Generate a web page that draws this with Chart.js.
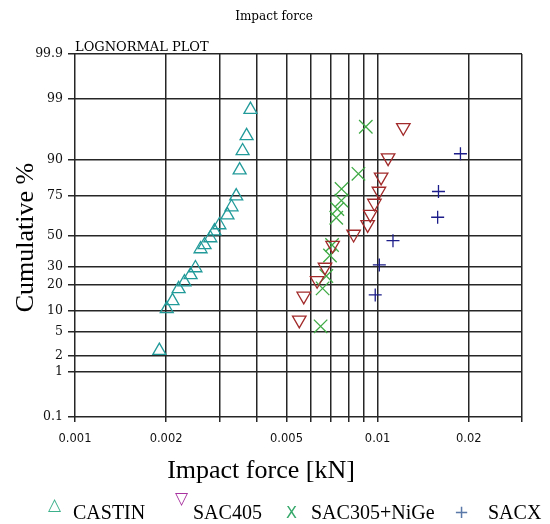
<!DOCTYPE html>
<html>
<head>
<meta charset="utf-8">
<script src="https://cdn.jsdelivr.net/npm/chart.js@4.4.1/dist/chart.umd.min.js"></script>
<style>
  body { margin: 0; background: #fff; }
  #plot { display: block; }
</style>
</head>
<body>
<canvas id="plot" width="550" height="524"></canvas>
<script>
// impact force [kN] and cumulative failure % for each solder alloy
const CASTIN_FORCE = [0.00190, 0.00201, 0.00210, 0.00220, 0.00230, 0.00241, 0.00250, 0.00260, 0.00268, 0.00280,
                      0.00289, 0.00300, 0.00319, 0.00329, 0.00341, 0.00350, 0.00358, 0.00369, 0.00380];
const CASTIN_CUM = [2.5, 10.6, 13.3, 18.2, 21.4, 25.1, 29.0, 40.9, 43.6, 48.3,
                    53.0, 57.1, 63.6, 68.6, 74.9, 86.7, 92.5, 95.5, 98.4];

const SAC405_FORCE = [0.00551, 0.00570, 0.00631, 0.00670, 0.00710, 0.00833, 0.00927, 0.00946, 0.00976, 0.01010,
                      0.01027, 0.01083, 0.01216];
const SAC405_CUM = [7.5, 15.1, 22.2, 29.5, 43.4, 50.9, 57.4, 64.1, 70.9, 77.5, 84.0, 90.7, 96.7];

const SAC305_FORCE = [0.00648, 0.00658, 0.00677, 0.00696, 0.00707, 0.00730, 0.00736, 0.00759, 0.00760, 0.00864, 0.00914];
const SAC305_CUM = [6.1, 18.4, 24.5, 36.7, 43.6, 61.9, 67.4, 72.4, 78.6, 85.3, 96.8];

const SACX_FORCE = [0.00982, 0.01013, 0.01124, 0.01579, 0.01589, 0.01878];
const SACX_CUM = [15.6, 30.8, 46.5, 62.2, 77.3, 91.8];

const SERIES_NAMES = ["CASTIN", "SAC405", "SAC305+NiGe", "SACX"];

// probability axis lines (%) and log axis lines (kN)
const PCT_TICKS = [0.1, 1, 2, 5, 10, 20, 30, 50, 75, 90, 99, 99.9];
const FORCE_GRID = [0.001, 0.002, 0.003, 0.004, 0.005, 0.006, 0.007, 0.008, 0.009, 0.01, 0.02, 0.03];
const FORCE_LABELS = [0.001, 0.002, 0.005, 0.01, 0.02];

const CHART_TITLE = "Impact force";
const PLOT_TAG = "LOGNORMAL PLOT";
const X_TITLE = "Impact force [kN]";
const Y_TITLE = "Cumulative %";

// inverse standard normal CDF (Acklam), used for the probability axis
function probit(p) {
  const a = [-3.969683028665376e+01, 2.209460984245205e+02, -2.759285104469687e+02,
             1.383577518672690e+02, -3.066479806614716e+01, 2.506628277459239e+00];
  const b = [-5.447609879822406e+01, 1.615858368580409e+02, -1.556989798598866e+02,
             6.680131188771972e+01, -1.328068155288572e+01];
  const c = [-7.784894002430293e-03, -3.223964580411365e-01, -2.400758277161838e+00,
             -2.549671750887042e+00, 4.374664141464968e+00, 2.938163982698783e+00];
  const d = [7.784695709041462e-03, 3.224671290700398e-01, 2.445134137142996e+00, 3.754408661907416e+00];
  const lo = 0.02425;
  if (p < lo) {
    const q = Math.sqrt(-2 * Math.log(p));
    return (((((c[0] * q + c[1]) * q + c[2]) * q + c[3]) * q + c[4]) * q + c[5]) /
           ((((d[0] * q + d[1]) * q + d[2]) * q + d[3]) * q + 1);
  }
  if (p > 1 - lo) return -probit(1 - p);
  const q = p - 0.5;
  const r = q * q;
  return (((((a[0] * r + a[1]) * r + a[2]) * r + a[3]) * r + a[4]) * r + a[5]) * q /
         (((((b[0] * r + b[1]) * r + b[2]) * r + b[3]) * r + b[4]) * r + 1);
}

function toPoints(force, cum) {
  return force.map((f, i) => ({ x: f, y: probit(cum[i] / 100) }));
}

const GRID_COLOR = "#262626";

// titles and the key below the plot
const decorations = {
  id: "decorations",
  afterDraw(chart) {
    const ctx = chart.ctx;
    const area = chart.chartArea;
    ctx.save();
    ctx.fillStyle = "#000";
    ctx.textBaseline = "alphabetic";

    ctx.font = '12px "DejaVu Serif"';
    ctx.textAlign = "center";
    ctx.fillText(CHART_TITLE, 274, 19.5);

    ctx.font = '13px "DejaVu Serif"';
    ctx.textAlign = "left";
    ctx.fillText(PLOT_TAG, area.left, area.top - 3);

    ctx.font = '26px "Liberation Serif"';
    ctx.textAlign = "center";
    ctx.fillText(X_TITLE, 261, 478);

    ctx.save();
    ctx.translate(33, (area.top + area.bottom) / 2 + 2);
    ctx.rotate(-Math.PI / 2);
    ctx.fillText(Y_TITLE, 0, 0);
    ctx.restore();

    const keys = [
      { mark: "\u25B3", color: "#3bb08a", font: '17px "DejaVu Sans"', mx: 48, my: 510, tx: 73 },
      { mark: "\u25BD", color: "#a8329f", font: '17px "DejaVu Sans"', mx: 175, my: 504, tx: 193 },
      { mark: "X", color: "#35a86a", font: '16px "DejaVu Sans"', mx: 286, my: 518, tx: 311 },
      { mark: "+", color: "#5a78a8", font: '18px "DejaVu Sans"', mx: 454, my: 518, tx: 488 }
    ];
    keys.forEach((k, i) => {
      ctx.textAlign = "left";
      ctx.font = k.font;
      ctx.fillStyle = k.color;
      ctx.fillText(k.mark, k.mx, k.my);
      ctx.font = '20px "Liberation Serif"';
      ctx.fillStyle = "#000";
      ctx.fillText(SERIES_NAMES[i], k.tx, 519);
    });
    ctx.restore();
  }
};

function createChart(ctx) {
  const datasets = [
    {
      label: SERIES_NAMES[0],
      data: toPoints(CASTIN_FORCE, CASTIN_CUM),
      pointStyle: "triangle",
      pointRadius: 7.5,
      borderColor: "#229a9a",
    },
    {
      label: SERIES_NAMES[1],
      data: toPoints(SAC405_FORCE, SAC405_CUM),
      pointStyle: "triangle",
      rotation: 180,
      pointRadius: 7.8,
      borderColor: "#a22a2a",
    },
    {
      label: SERIES_NAMES[2],
      data: toPoints(SAC305_FORCE, SAC305_CUM),
      pointStyle: "crossRot",
      pointRadius: 9.5,
      borderColor: "#3faa45",
    },
    {
      label: SERIES_NAMES[3],
      data: toPoints(SACX_FORCE, SACX_CUM),
      pointStyle: "cross",
      pointRadius: 6.5,
      borderColor: "#1c1c8a",
    },
  ];
  datasets.forEach((ds) => {
    ds.backgroundColor = "rgba(0,0,0,0)";
    ds.borderWidth = 1.3;
    ds.showLine = false;
  });

  const options = {
    responsive: false,
    animation: false,
    layout: { padding: { top: 54, right: 28, left: 0, bottom: 0 } },
    scales: {
      x: {
        type: "logarithmic",
        min: 0.001,
        max: 0.03,
        afterFit: (s) => { s.height = 107; },
        afterBuildTicks: (s) => { s.ticks = FORCE_GRID.map((v) => ({ value: v })); },
        ticks: {
          autoSkip: false,
          maxRotation: 0,
          padding: 10,
          color: "#111",
          font: { family: "DejaVu Sans", size: 11.5 },
          callback: (v) => (FORCE_LABELS.includes(v) ? String(v) : ""),
        },
        grid: { color: GRID_COLOR, lineWidth: 1.5, tickLength: 5 },
        border: { display: false },
      },
      y: {
        type: "linear",
        min: probit(0.001),
        max: probit(0.999),
        afterFit: (s) => { s.width = 75; },
        afterBuildTicks: (s) => { s.ticks = PCT_TICKS.map((p) => ({ value: probit(p / 100) })); },
        ticks: {
          autoSkip: false,
          padding: 5,
          color: "#111",
          font: { family: "DejaVu Serif", size: 12.5 },
          callback: (v, i) => String(PCT_TICKS[i]),
        },
        grid: { color: GRID_COLOR, lineWidth: 1.5, tickLength: 7 },
        border: { display: false },
      },
    },
    plugins: {
      legend: { display: false },
      tooltip: { enabled: false },
    },
  };

  return new Chart(ctx, {
    type: "scatter",
    data: { datasets: datasets },
    options: options,
    plugins: [decorations],
  });
}

createChart(document.getElementById("plot").getContext("2d"));
</script>
</body>
</html>
